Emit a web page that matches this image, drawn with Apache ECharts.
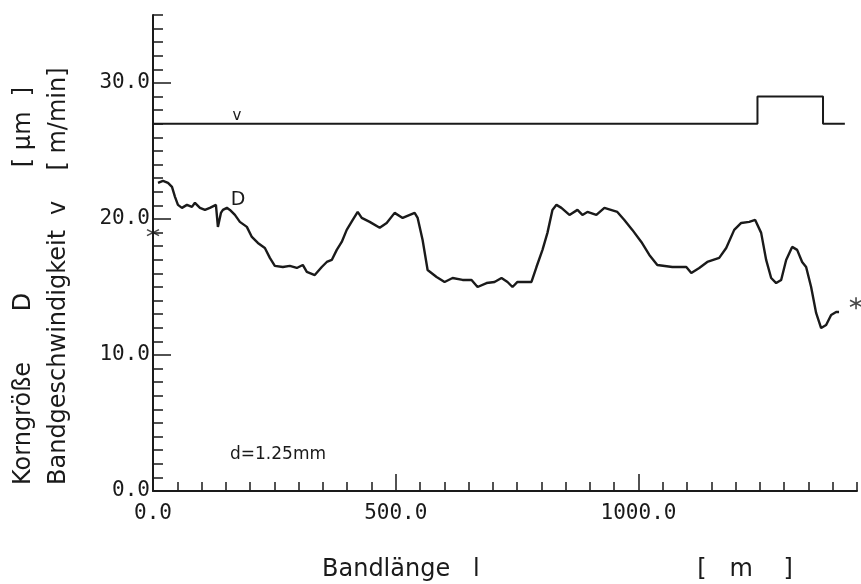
<!DOCTYPE html>
<html><head><meta charset="utf-8">
<script src="https://cdn.jsdelivr.net/npm/echarts@6.0.0/dist/echarts.min.js"></script>
<style>html,body{margin:0;padding:0;background:#fff}#c{width:861px;height:584px}</style>
</head><body><div id="c"></div>
<script>
// Bandlänge l [m] vs. Korngröße D [µm]
const lengthD = [10.3,20.6,30.9,39.1,45.3,51.4,59.6,69.9,80.2,86.4,96.7,107.0,117.2,129.6,133.7,139.9,144.0,152.2,158.4,168.7,178.9,193.3,203.6,216.0,230.4,240.7,250.9,267.4,281.8,296.2,308.5,316.8,333.2,347.6,357.9,368.2,378.5,388.7,399.0,411.4,421.6,429.9,446.3,466.9,481.3,497.7,514.2,538.9,545.1,555.3,565.6,584.1,600.6,617.0,637.6,656.1,668.5,687.0,703.4,717.8,730.2,740.4,750.7,779.5,789.8,802.2,812.4,822.7,831.0,841.2,857.7,874.2,884.4,894.7,913.2,929.7,956.4,970.8,987.3,1005.8,1022.3,1038.7,1069.6,1098.4,1108.7,1125.1,1141.6,1166.2,1180.6,1197.1,1211.5,1228.0,1240.3,1252.6,1262.9,1273.2,1283.5,1293.8,1304.1,1316.4,1326.7,1337.0,1345.2,1355.5,1365.8,1376.1,1386.4,1396.7,1407.0,1413.0];
const grainD = [22.66,22.81,22.66,22.36,21.63,21.04,20.82,21.04,20.89,21.19,20.82,20.67,20.82,21.04,19.42,20.45,20.67,20.82,20.67,20.30,19.79,19.42,18.68,18.24,17.87,17.14,16.55,16.47,16.55,16.40,16.62,16.11,15.88,16.47,16.84,16.99,17.73,18.31,19.20,19.93,20.52,20.08,19.79,19.35,19.71,20.45,20.08,20.45,20.08,18.46,16.25,15.74,15.37,15.66,15.52,15.52,15.00,15.29,15.37,15.66,15.37,15.00,15.37,15.37,16.47,17.73,18.98,20.67,21.04,20.82,20.30,20.67,20.30,20.52,20.30,20.82,20.52,19.93,19.20,18.31,17.36,16.62,16.47,16.47,16.03,16.40,16.84,17.14,17.87,19.20,19.71,19.79,19.93,18.98,16.99,15.66,15.29,15.52,16.99,17.95,17.73,16.84,16.47,15.00,13.09,11.98,12.20,12.94,13.16,13.16];
// Bandgeschwindigkeit v [m/min]
const lengthV = [0,1245,1245,1380,1380,1425];
const speedV = [27,27,29,29,27,27];
// asterisk markers (start / end values)
const markerLength = [0,1448];
const markerGrain = [19.0,13.8];
// axis ticks / labels
const xTickLabels = [0,500,1000];
const yTickLabels = [0,10,20,30];
const xMajorTicks = [500,1000];
const yMajorTicks = [10,20,30];
const xMin = 0, xMax = 1450, yMin = 0, yMax = 35;

const xMinorTicks = [], yMinorTicks = [];
for (let v = 50; v <= xMax; v += 50) if (xMajorTicks.indexOf(v) < 0) xMinorTicks.push(v);
for (let v = 1; v <= yMax; v += 1) if (yMajorTicks.indexOf(v) < 0) yMinorTicks.push(v);

const INK = '#1a1a1a';
const labelFont = {fontFamily: 'DejaVu Sans Mono', fontSize: 21, color: INK};
const nameFont = 'DejaVu Sans';
const asterisk = 'path://M0,-5L0,5M-4.33,-2.5L4.33,2.5M-4.33,2.5L4.33,-2.5';

const chart = echarts.init(document.getElementById('c'), null, {renderer: 'canvas'});
chart.setOption({
  backgroundColor: '#ffffff',
  animation: false,
  grid: {left: 153, right: 4, top: 15, bottom: 93, containLabel: false},
  xAxis: [{
    type: 'value', min: xMin, max: xMax, position: 'bottom',
    axisLine: {show: true, lineStyle: {color: INK, width: 2}},
    axisTick: {show: true, inside: true, length: 9, customValues: xMinorTicks, lineStyle: {color: INK, width: 1.5}},
    axisLabel: Object.assign({show: true, margin: 12, customValues: xTickLabels, formatter: v => v.toFixed(1)}, labelFont),
    splitLine: {show: false}
  }, {
    type: 'value', min: xMin, max: xMax, position: 'bottom',
    axisLine: {show: false},
    axisTick: {show: true, inside: true, length: 17, customValues: xMajorTicks, lineStyle: {color: INK, width: 1.5}},
    axisLabel: {show: false},
    splitLine: {show: false}
  }],
  yAxis: [{
    type: 'value', min: yMin, max: yMax, position: 'left',
    axisLine: {show: true, lineStyle: {color: INK, width: 2}},
    axisTick: {show: true, inside: true, length: 10, customValues: yMinorTicks, lineStyle: {color: INK, width: 1.5}},
    axisLabel: Object.assign({show: true, margin: 3, customValues: yTickLabels, formatter: v => v.toFixed(1)}, labelFont),
    splitLine: {show: false}
  }, {
    type: 'value', min: yMin, max: yMax, position: 'left',
    axisLine: {show: false},
    axisTick: {show: true, inside: true, length: 18, customValues: yMajorTicks, lineStyle: {color: INK, width: 1.5}},
    axisLabel: {show: false},
    splitLine: {show: false}
  }],
  series: [{
    name: 'v', type: 'line', xAxisIndex: 0, yAxisIndex: 0,
    data: lengthV.map((x, i) => [x, speedV[i]]),
    symbol: 'none', lineStyle: {color: INK, width: 2}
  }, {
    name: 'D', type: 'line', xAxisIndex: 0, yAxisIndex: 0,
    data: lengthD.map((x, i) => [x, grainD[i]]),
    symbol: 'none', lineStyle: {color: INK, width: 2.4}
  }, {
    name: 'marker', type: 'scatter', xAxisIndex: 0, yAxisIndex: 0, clip: false,
    data: markerLength.map((x, i) => [x, markerGrain[i]]),
    symbol: asterisk, symbolSize: 12,
    itemStyle: {color: 'none', borderColor: INK, borderWidth: 1.6}
  }],
  graphic: [
    {type: 'text', x: 24, y: 485, rotation: Math.PI / 2,
      style: {text: 'Korngröße', fontFamily: nameFont, fontSize: 24, fill: INK, align: 'left', verticalAlign: 'middle'}},
    {type: 'text', x: 24, y: 302, rotation: Math.PI / 2,
      style: {text: 'D', fontFamily: nameFont, fontSize: 24, fill: INK, align: 'center', verticalAlign: 'middle'}},
    {type: 'text', x: 24, y: 127, rotation: Math.PI / 2,
      style: {text: '[ µm  ]', fontFamily: nameFont, fontSize: 24, fill: INK, align: 'center', verticalAlign: 'middle'}},
    {type: 'text', x: 59, y: 485, rotation: Math.PI / 2,
      style: {text: 'Bandgeschwindigkeit', fontFamily: nameFont, fontSize: 24, fill: INK, align: 'left', verticalAlign: 'middle'}},
    {type: 'text', x: 59, y: 208, rotation: Math.PI / 2,
      style: {text: 'v', fontFamily: nameFont, fontSize: 24, fill: INK, align: 'center', verticalAlign: 'middle'}},
    {type: 'text', x: 59, y: 119, rotation: Math.PI / 2,
      style: {text: '[ m/min]', fontFamily: nameFont, fontSize: 24, fill: INK, align: 'center', verticalAlign: 'middle'}},
    {type: 'text', x: 322, y: 570,
      style: {text: 'Bandlänge   l', fontFamily: nameFont, fontSize: 24, fill: INK, align: 'left', verticalAlign: 'middle'}},
    {type: 'text', x: 745, y: 570,
      style: {text: '[   m    ]', fontFamily: nameFont, fontSize: 24, fill: INK, align: 'center', verticalAlign: 'middle'}},
    {type: 'text', x: 237, y: 116,
      style: {text: 'v', fontFamily: nameFont, fontSize: 15, fill: INK, align: 'center', verticalAlign: 'middle'}},
    {type: 'text', x: 238, y: 200,
      style: {text: 'D', fontFamily: nameFont, fontSize: 19, fill: INK, align: 'center', verticalAlign: 'middle'}},
    {type: 'text', x: 278, y: 455,
      style: {text: 'd=1.25mm', fontFamily: nameFont, fontSize: 17, fill: INK, align: 'center', verticalAlign: 'middle'}}
  ]
});
</script>
</body></html>
